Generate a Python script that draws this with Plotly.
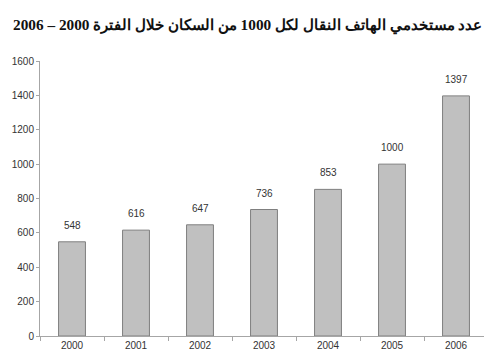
import plotly.graph_objects as go

years = ["2000", "2001", "2002", "2003", "2004", "2005", "2006"]
users = [548, 616, 647, 736, 853, 1000, 1397]
y_ticks = [0, 200, 400, 600, 800, 1000, 1200, 1400, 1600]
title_text = "عدد مستخدمي الهاتف النقال لكل 1000 من السكان خلال الفترة 2000 – 2006"

fig = go.Figure()
fig.add_trace(go.Bar(
    x=years, y=users,
    marker=dict(color="#c0c0c0", line=dict(color="#7f7f7f", width=1)),
    width=0.42,
    hoverinfo="x+y",
))
for i, yv in enumerate(users):
    fig.add_annotation(x=i, y=yv, xref="x", yref="y", text=str(yv), showarrow=False,
                       yanchor="bottom", yshift=9,
                       font=dict(family="Liberation Sans, Arial", size=10, color="#333333"))

fig.add_annotation(x=0.5, y=1, xref="paper", yref="paper", text=title_text, showarrow=False,
                   xanchor="center", yanchor="middle", yshift=36, xshift=-17,
                   font=dict(family="Liberation Serif", size=15.3, color="#111111", weight="bold"))

fig.update_layout(
    width=492, height=360,
    margin=dict(l=32, r=12, t=53, b=32),
    paper_bgcolor="white", plot_bgcolor="white",
    showlegend=False,
    xaxis=dict(type="category", range=[-0.5, 6.5], showline=True, linecolor="#a6a6a6", linewidth=1,
               ticks="outside", tickson="boundaries", ticklen=4, tickcolor="#a6a6a6",
               showgrid=False, zeroline=False, tickangle=0, automargin=False,
               tickfont=dict(family="Liberation Sans, Arial", size=10, color="#333333")),
    yaxis=dict(range=[0, 1600], tickvals=y_ticks, showline=True, linecolor="#a6a6a6", linewidth=1,
               ticks="outside", ticklen=3, tickcolor="#a6a6a6",
               showgrid=False, zeroline=False, automargin=False,
               tickfont=dict(family="Liberation Sans, Arial", size=10, color="#333333")),
)

fig.write_html("out.html")
